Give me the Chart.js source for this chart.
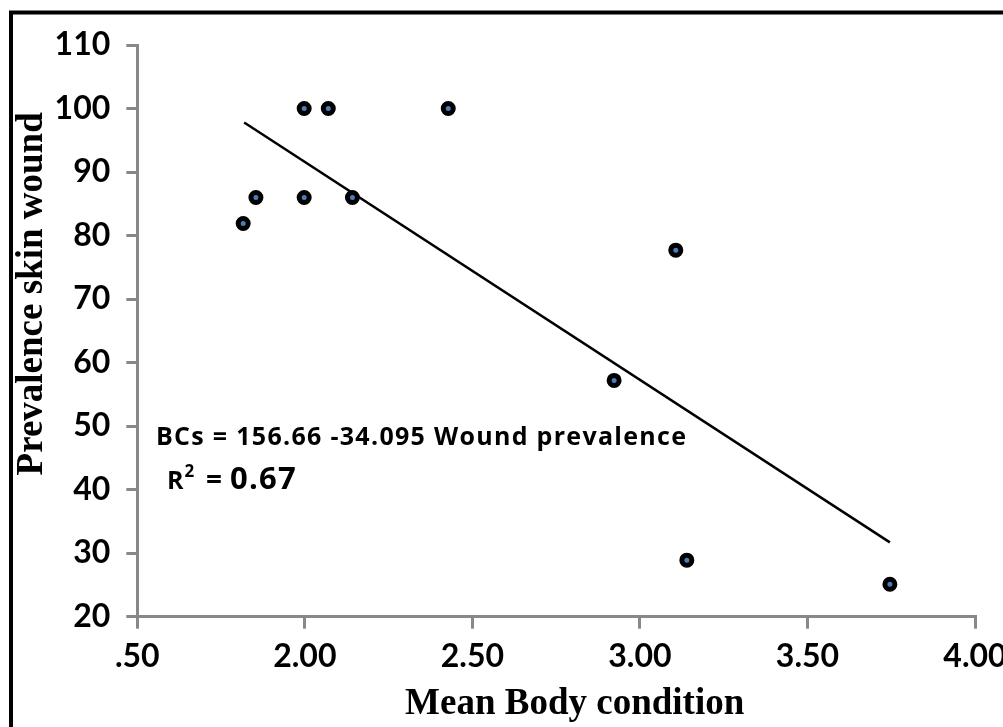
<!DOCTYPE html>
<html>
<head>
<meta charset="utf-8">
<script src="https://cdn.jsdelivr.net/npm/chart.js@4.4.1/dist/chart.umd.min.js"></script>
<style>
  html, body { margin: 0; padding: 0; background: #ffffff; }
  #wrap { width: 1003px; height: 727px; position: relative; }
  canvas { display: block; }
</style>
</head>
<body>
<div id="wrap"><canvas id="c" width="1003" height="727"></canvas></div>
<script>
// ---- data ----
const bodyCondition = [1.816, 1.854, 1.998, 1.998, 2.070, 2.142, 2.428, 2.923, 3.107, 3.140, 3.746];
const woundPrevalence = [81.9, 86.0, 86.0, 100.0, 100.0, 86.0, 100.0, 57.2, 77.7, 28.9, 25.1];
const trendX = [1.819, 3.746];
const trendY = [97.8, 31.7];
const xTickValues = [1.5, 2.0, 2.5, 3.0, 3.5, 4.0];
const xTickLabels = ['.50', '2.00', '2.50', '3.00', '3.50', '4.00'];
const yTickValues = [20, 30, 40, 50, 60, 70, 80, 90, 100, 110];
const xTitle = 'Mean Body condition';
const yTitle = 'Prevalence skin wound';
const equationText = 'BCs = 156.66 -34.095 Wound prevalence';
const r2Label = 'R';
const r2Sup = '2';
const r2Eq = '=';
const r2Value = '0.67';

const scatterPoints = bodyCondition.map((x, i) => ({ x: x, y: woundPrevalence[i] }));
const trendPoints = trendX.map((x, i) => ({ x: x, y: trendY[i] }));

const AXIS_GRAY = '#888888';
const TICK_FONT = { family: 'Lato, "Open Sans", sans-serif', size: 32, weight: 'bold' };
const TITLE_FONT = { family: '"Liberation Serif", "Times New Roman", serif', size: 37, weight: 'bold' };
const ANNOT_FAMILY = '"Open Sans", Lato, sans-serif';

const framePlugin = {
  id: 'frame',
  afterDraw(chart) {
    const ctx = chart.ctx;
    ctx.save();
    // outer black frame (only left and top visible in the reference)
    ctx.strokeStyle = '#000000';
    ctx.lineWidth = 4;
    ctx.beginPath();
    ctx.moveTo(11, 740);
    ctx.lineTo(11, 12.5);
    ctx.lineTo(1010, 12.5);
    ctx.stroke();

    // regression annotation
    ctx.fillStyle = '#000000';
    ctx.textBaseline = 'alphabetic';
    ctx.textAlign = 'left';
    ctx.font = 'bold 25px ' + ANNOT_FAMILY;
    if ('letterSpacing' in ctx) ctx.letterSpacing = '1.3px';
    ctx.fillText(equationText, 156, 445);
    if ('letterSpacing' in ctx) ctx.letterSpacing = '0px';

    ctx.font = 'bold 25px ' + ANNOT_FAMILY;
    ctx.fillText(r2Label, 167, 489);
    const rw = ctx.measureText(r2Label).width;
    ctx.font = 'bold 17px ' + ANNOT_FAMILY;
    ctx.fillText(r2Sup, 167 + rw + 1, 477);
    ctx.font = 'bold 28px ' + ANNOT_FAMILY;
    ctx.fillText(r2Eq, 206, 489);
    ctx.font = 'bold 31px ' + ANNOT_FAMILY;
    if ('letterSpacing' in ctx) ctx.letterSpacing = '1.2px';
    ctx.fillText(r2Value, 230, 489);
    if ('letterSpacing' in ctx) ctx.letterSpacing = '0px';
    ctx.restore();
  }
};

const chart = new Chart(document.getElementById('c'), {
  type: 'scatter',
  data: {
    datasets: [
      {
        label: 'Trend',
        type: 'line',
        data: trendPoints,
        borderColor: '#000000',
        borderWidth: 2.5,
        pointRadius: 0,
        fill: false,
        order: 2
      },
      {
        label: 'Observed',
        data: scatterPoints,
        pointRadius: 5,
        pointBorderWidth: 5,
        pointBackgroundColor: '#4a7ebb',
        pointBorderColor: '#000000',
        order: 1
      }
    ]
  },
  options: {
    responsive: false,
    animation: false,
    events: [],
    layout: { padding: { left: 0, top: 45, right: 28, bottom: 0 } },
    plugins: {
      legend: { display: false },
      tooltip: { enabled: false },
      title: { display: false }
    },
    scales: {
      x: {
        type: 'linear',
        min: 1.5,
        max: 4.0,
        afterBuildTicks(scale) { scale.ticks = xTickValues.map(v => ({ value: v })); },
        afterFit(scale) { scale.height = 727 - 616.7; scale.paddingLeft = 0; scale.paddingRight = 0; },
        ticks: {
          color: '#000000',
          font: TICK_FONT,
          padding: 9,
          maxRotation: 0,
          autoSkip: false,
          callback: (v) => { const i = xTickValues.indexOf(v); return i >= 0 ? xTickLabels[i] : ''; }
        },
        grid: { drawOnChartArea: false, drawTicks: true, tickLength: 12, color: AXIS_GRAY, lineWidth: 3 },
        border: { display: true, color: AXIS_GRAY, width: 3 },
        title: { display: true, text: '    ' + xTitle, color: '#000000', font: TITLE_FONT, padding: { top: 0, bottom: 0 } }
      },
      y: {
        type: 'linear',
        min: 20,
        max: 110,
        afterBuildTicks(scale) { scale.ticks = yTickValues.map(v => ({ value: v })); },
        afterFit(scale) { scale.width = 137.3; scale.paddingTop = 0; scale.paddingBottom = 0; },
        ticks: {
          color: '#000000',
          font: TICK_FONT,
          padding: 16,
          autoSkip: false,
          callback: (v) => String(v)
        },
        grid: { drawOnChartArea: false, drawTicks: true, tickLength: 11, color: AXIS_GRAY, lineWidth: 3 },
        border: { display: true, color: AXIS_GRAY, width: 3 },
        title: { display: true, text: '        ' + yTitle, color: '#000000', font: TITLE_FONT, padding: { top: 10, bottom: 0 } }
      }
    }
  },
  plugins: [framePlugin]
});
</script>
</body>
</html>
